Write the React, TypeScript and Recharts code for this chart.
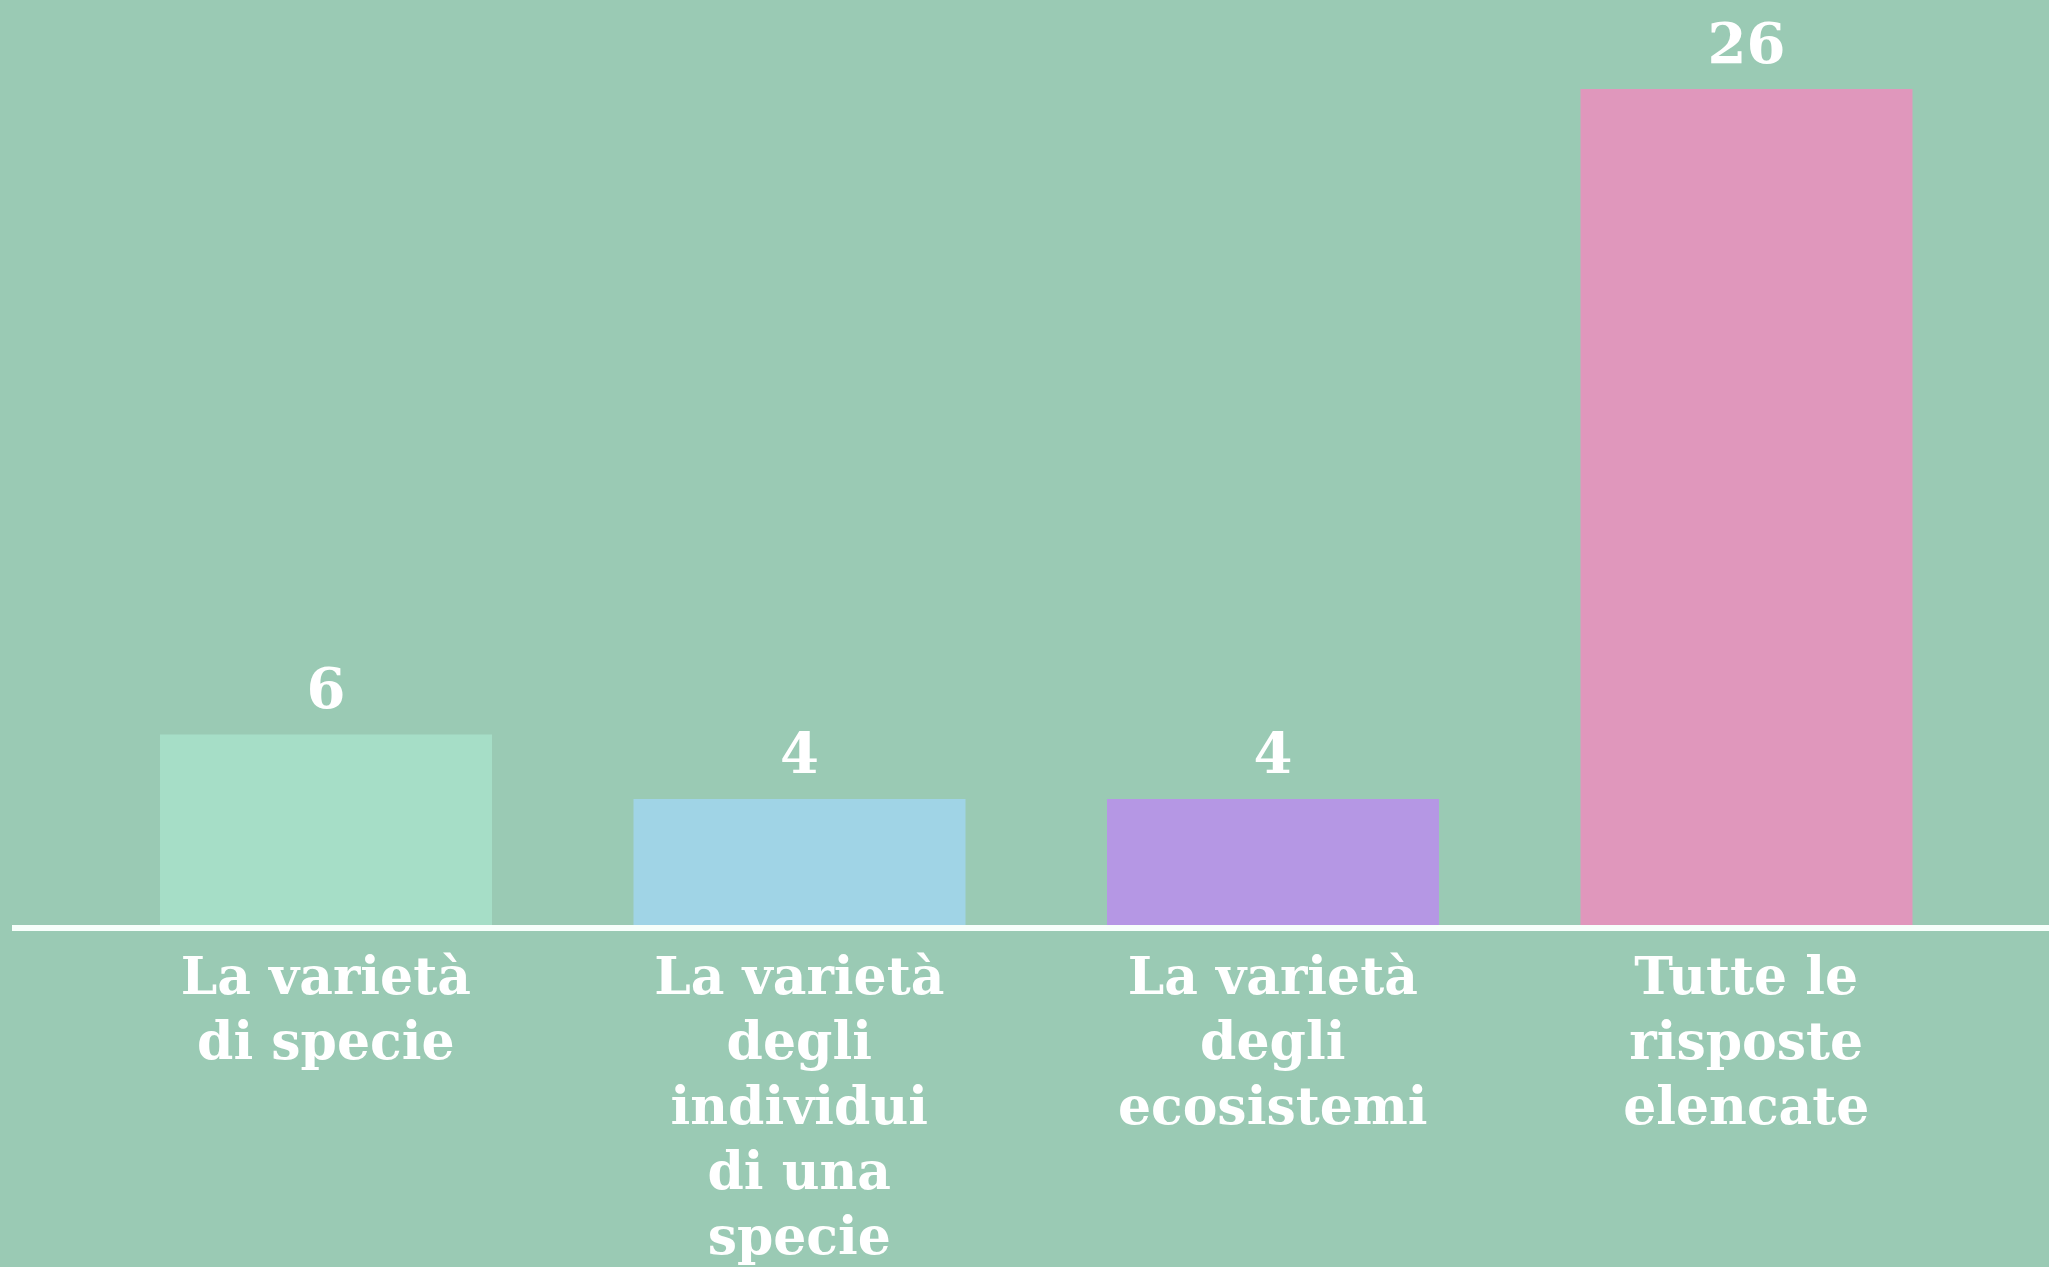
import React from "react";
import { BarChart, Bar, XAxis, YAxis, Cell, LabelList } from "recharts";

const categories = [
  "La varietà\ndi specie",
  "La varietà\ndegli\nindividui\ndi una\nspecie",
  "La varietà\ndegli\necosistemi",
  "Tutte le\nrisposte\nelencate",
];
const values = [6, 4, 4, 26];
const barColors = ["#A6DEC7", "#A0D4E6", "#B597E4", "#E097BC"];

const data = categories.map((c, i) => ({ name: c, value: values[i] }));

const FONT = "'DejaVu Serif', serif";

const Tick = (props: any) => {
  const { x, y, payload } = props;
  const lines = String(payload.value).split("\n");
  return (
    <text
      x={x}
      y={y + 58}
      textAnchor="middle"
      fill="#FFFFFF"
      fontFamily={FONT}
      fontWeight="bold"
      fontSize={52}
    >
      {lines.map((l, i) => (
        <tspan key={i} x={x} dy={i === 0 ? 0 : 65}>
          {l}
        </tspan>
      ))}
    </text>
  );
};

const ValueLabel = (props: any) => {
  const { x, y, width, value } = props;
  return (
    <text
      x={x + width / 2}
      y={y - 26}
      textAnchor="middle"
      fill="#FFFFFF"
      fontFamily={FONT}
      fontWeight="bold"
      fontSize={56}
    >
      {value}
    </text>
  );
};

export default function App() {
  return (
    <div
      style={{
        position: "fixed",
        left: 0,
        top: 0,
        width: 2049,
        height: 1267,
        background: "#9ACAB4",
        overflow: "hidden",
      }}
    >
      <BarChart
        width={2049}
        height={1267}
        data={data}
        margin={{ top: 89, right: 0, bottom: 0, left: 12 }}
      >
        <YAxis hide domain={[0, 26]} />
        <XAxis
          dataKey="name"
          height={339}
          interval={0}
          padding={{ left: 77, right: 66 }}
          axisLine={{ stroke: "#F7FFFB", strokeWidth: 6 }}
          tickLine={false}
          tick={<Tick />}
        />
        <Bar dataKey="value" barSize={332} isAnimationActive={false}>
          {data.map((d, i) => (
            <Cell key={i} fill={barColors[i]} />
          ))}
          <LabelList dataKey="value" content={<ValueLabel />} />
        </Bar>
      </BarChart>
    </div>
  );
}
